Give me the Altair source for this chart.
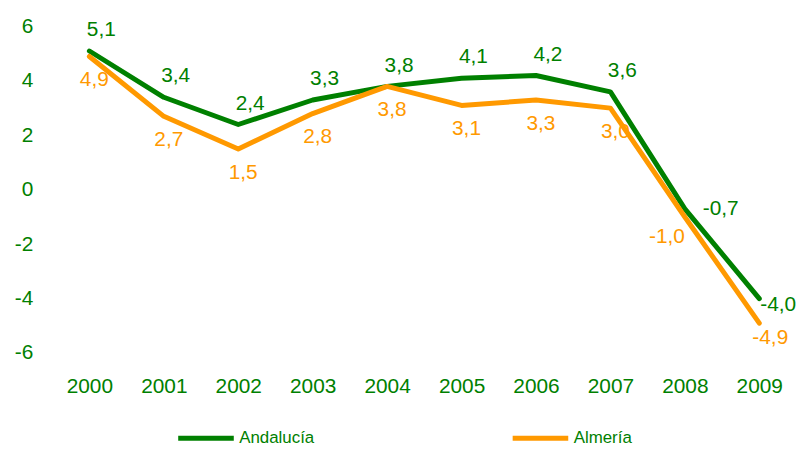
import altair as alt
import pandas as pd

years = [2000, 2001, 2002, 2003, 2004, 2005, 2006, 2007, 2008, 2009]
andalucia = [5.1, 3.4, 2.4, 3.3, 3.8, 4.1, 4.2, 3.6, -0.7, -4.0]
almeria = [4.9, 2.7, 1.5, 2.8, 3.8, 3.1, 3.3, 3.0, -1.0, -4.9]
series_names = ["Andalucía", "Almería"]
series_colors = ["#008000", "#FF9900"]
y_ticks = [-6, -4, -2, 0, 2, 4, 6]

rows = []
for name, vals in zip(series_names, [andalucia, almeria]):
    for yr, v in zip(years, vals):
        rows.append({"year": yr, "value": v, "serie": name,
                     "label": f"{v:.1f}".replace(".", ",")})
df = pd.DataFrame(rows)

FONT = "Liberation Sans"
FS = 21
xs = alt.Scale(domain=[1999.44, 2009.44], nice=False, zero=False)
ys = alt.Scale(domain=[-6, 6], nice=False)
color_scale = alt.Scale(domain=series_names, range=series_colors)

base = alt.Chart(df)

lines = base.mark_line(strokeWidth=5, strokeCap="round", strokeJoin="round").encode(
    x=alt.X("year:Q", scale=xs, title=None,
            axis=alt.Axis(values=years, format="d", domain=False, ticks=False, tickSize=0,
                          grid=False, labelColor="#008000", labelFontSize=FS,
                          labelFont=FONT, labelPadding=23)),
    y=alt.Y("value:Q", scale=ys, title=None,
            axis=alt.Axis(values=y_ticks, domain=False, ticks=False, tickSize=0, grid=False,
                          labelColor="#008000", labelFontSize=FS, labelFont=FONT,
                          labelPadding=15,
                          labelExpr="datum.value < 0 ? '-' + abs(datum.value) : '' + datum.value")),
    color=alt.Color("serie:N", scale=color_scale, sort=series_names, title=None,
                    legend=alt.Legend(orient="none", legendX=129, legendY=384,
                                      direction="horizontal", columns=2,
                                      symbolType="stroke", symbolStrokeWidth=5,
                                      symbolSize=3136, labelOffset=3,
                                      columnPadding=189, labelFontSize=17,
                                      labelFont=FONT, labelColor="#008000",
                                      padding=0)),
)


def labels(serie, yr_filter, color, align, dx, dy):
    return base.transform_filter(
        (alt.datum.serie == serie) & yr_filter
    ).mark_text(align=align, baseline="middle", dx=dx, dy=dy, fontSize=FS,
                font=FONT, color=color).encode(
        x=alt.X("year:Q", scale=xs),
        y=alt.Y("value:Q", scale=ys),
        text="label:N",
    )


g_main = labels("Andalucía", alt.datum.year <= 2007, "#008000", "center", 12, -21)
g_2008 = labels("Andalucía", alt.datum.year == 2008, "#008000", "left", 18, 0)
g_2009 = labels("Andalucía", alt.datum.year == 2009, "#008000", "left", 1, 6)
o_main = labels("Almería", alt.datum.year <= 2007, "#FF9900", "center", 5, 24)
o_2008 = labels("Almería", alt.datum.year == 2008, "#FF9900", "right", 0, 20)
o_2009 = labels("Almería", alt.datum.year == 2009, "#FF9900", "left", -7, 15)

chart = alt.layer(lines, g_main, g_2008, g_2009, o_main, o_2008, o_2009).properties(
    width=750, height=329,
    background="white",
    autosize=alt.AutoSizeParams(type="none"),
    padding={"left": 40, "top": 17, "right": 6, "bottom": 93},
).configure_view(strokeWidth=0, stroke="transparent")

chart.save("out.html", embed_options={"renderer": "svg", "actions": False})
